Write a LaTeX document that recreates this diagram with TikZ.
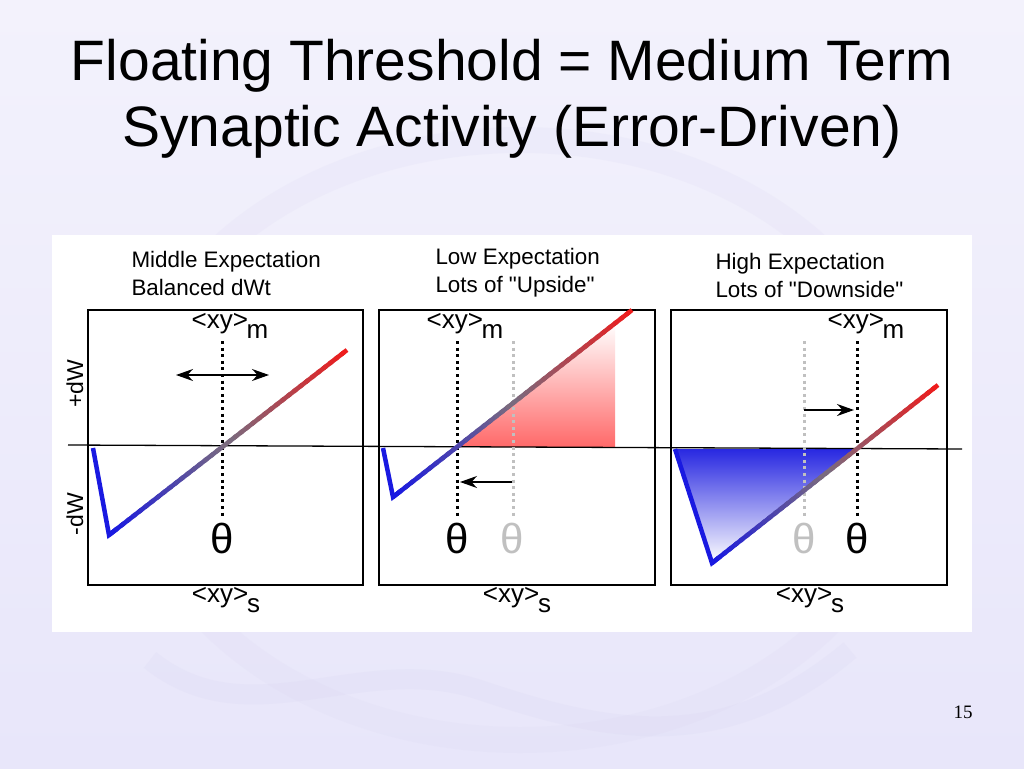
\documentclass[tikz,border=0pt]{standalone}
\usepackage{fontspec}
\setmainfont{Liberation Sans}
\newfontfamily\rawsans{Liberation Sans}
\newfontfamily\slidenumfont{Liberation Serif}
\usetikzlibrary{arrows.meta,calc}

\definecolor{slidebg}{RGB}{232,230,250}
\definecolor{slidetop}{RGB}{243,242,252}
\definecolor{markcol}{RGB}{214,211,240}
\definecolor{dwblue}{RGB}{25,25,225}
\definecolor{dwred}{RGB}{238,28,28}
\definecolor{dwmid}{RGB}{122,106,126}
\definecolor{ghost}{RGB}{192,192,192}
\definecolor{upfill}{RGB}{255,105,105}
\definecolor{downfill}{RGB}{40,40,225}

\tikzset{
  plotbox/.style={draw=black, line width=1.6pt},
  zeroline/.style={draw=black, line width=1.3pt},
  thresh/.style={line width=3pt, dash pattern=on 3pt off 3.6pt},
  shift arrow/.style={-{Stealth[length=17pt,width=12pt]}, line width=1.3pt},
  caption/.style={font=\fontsize{22.4}{28}\selectfont, align=left, anchor=west},
  axislabel/.style={font=\fontsize{23}{26}\selectfont, rotate=90},
  xylabel/.style={font=\fontsize{26}{30}\selectfont},
  thetalabel/.style={font=\fontsize{42}{46}\selectfont},
}

% straight double quote (no TeX quote mapping)
\newcommand{\dq}{{\rawsans\symbol{34}}}
% <xy> with a low subscript tucked under the bracket
\newcommand{\xysub}[1]{<xy>\kern-0.05em\raisebox{-0.36em}{#1}}

% dW curve: blue leg, then a blue-grey-red gradient leg
\newcommand{\dwcurve}[3]{%
  \draw[dwblue, line width=4.5pt, line join=miter] #1 -- #2 -- ($#2!0.03!#3$);
  \foreach \i in {0,...,39}{
    \pgfmathsetmacro{\ta}{\i/40}
    \pgfmathsetmacro{\tb}{min(1,(\i+1.5)/40)}
    \ifnum\i<20
      \pgfmathtruncatemacro{\pc}{\i*100/19}
      \colorlet{segcol}{dwmid!\pc!dwblue}
    \else
      \pgfmathtruncatemacro{\pc}{(\i-20)*100/19}
      \colorlet{segcol}{dwred!\pc!dwmid}
    \fi
    \draw[segcol, line width=4.5pt] ($#2!\ta!#3$) -- ($#2!\tb!#3$);
  }
}

\begin{document}
\begin{tikzpicture}[x=1pt, y=-1pt]
  \useasboundingbox (0,0) rectangle (1024,768);
  \shade[top color=slidetop, bottom color=slidebg] (0,0) rectangle (1024,768);

  % faint logo in the background
  \draw[markcol, line width=26pt, opacity=0.15] (520,440) ellipse [x radius=390, y radius=300];
  \draw[markcol, line width=20pt, opacity=0.18]
    (150,660) .. controls (250,740) and (360,650) .. (480,690)
    .. controls (600,730) and (720,760) .. (850,650);

  % title
  \node[font=\fontsize{57}{66}\selectfont, align=center] (title) at (512,99)
    {Floating Threshold = Medium Term\\Synaptic Activity (Error-Driven)};

  \fill[white] (52,235) rectangle (972,632);

  % panel fills
  \shade[top color=white, bottom color=upfill] (456,447) -- (615,323) -- (615,447) -- cycle;
  \shade[top color=downfill, bottom color=white] (675,449) -- (712,563) -- (857,449) -- cycle;

  % boxes
  \draw[plotbox] (88,310) rectangle (363,585);
  \draw[plotbox] (379,310) rectangle (655,585);
  \draw[plotbox] (671,310) rectangle (947,585);

  % zero line
  \coordinate (zl) at (68,445);
  \coordinate (zr) at (962,449);
  \draw[zeroline] (zl) -- (zr);

  % captions
  \node[caption] (cap1) at (128,273) {Middle Expectation\\Balanced dWt};
  \node[caption] (cap2) at (432,273) {Low Expectation\\Lots of \dq Upside\dq};
  \node[caption] (cap3) at (712,275) {High Expectation\\Lots of \dq Downside\dq};

  % axis labels
  \node[axislabel] (plusdw) at (75,384) {+dW};
  \node[axislabel] (minusdw) at (75,514) {-dW};

  % panel 1: middle expectation
  \coordinate (m1top) at (222,341);
  \coordinate (m1bot) at (222,518);
  \draw[thresh] (m1top) -- (m1bot);
  \dwcurve{(93,448)}{(109,535)}{(347,350)}
  \coordinate (dl1) at (176,375);
  \coordinate (dr1) at (269,375);
  \draw[line width=1.3pt, {Stealth[length=17pt,width=12pt]}-{Stealth[length=17pt,width=12pt]}] (dl1) -- (dr1);
  \node[xylabel] (xym1) at (230,326) {\xysub{m}};
  \node[thetalabel] (th1) at (222,538) {θ};
  \node[xylabel] (xys1) at (226,600) {\xysub{s}};

  % panel 2: low expectation
  \coordinate (g2top) at (513,341);
  \coordinate (g2bot) at (513,518);
  \coordinate (m2top) at (457,341);
  \coordinate (m2bot) at (457,518);
  \draw[thresh, ghost] (g2top) -- (g2bot);
  \draw[thresh] (m2top) -- (m2bot);
  \dwcurve{(383,448)}{(393,497)}{(632,310)}
  \coordinate (from2) at (512,482);
  \coordinate (to2) at (460,482);
  \draw[shift arrow] (from2) -- (to2);
  \node[xylabel] (xym2) at (465,326) {\xysub{m}};
  \node[thetalabel] (th2) at (457,538) {θ};
  \node[thetalabel, ghost] (thold2) at (512,538) {θ};
  \node[xylabel] (xys2) at (517,600) {\xysub{s}};

  % panel 3: high expectation
  \coordinate (g3top) at (804,341);
  \coordinate (g3bot) at (804,518);
  \coordinate (m3top) at (857,341);
  \coordinate (m3bot) at (857,518);
  \draw[thresh, ghost] (g3top) -- (g3bot);
  \draw[thresh] (m3top) -- (m3bot);
  \dwcurve{(675,449)}{(712,563)}{(938,385)}
  \coordinate (from3) at (804,410);
  \coordinate (to3) at (854,410);
  \draw[shift arrow] (from3) -- (to3);
  \node[xylabel] (xym3) at (866,326) {\xysub{m}};
  \node[thetalabel, ghost] (thold3) at (804,538) {θ};
  \node[thetalabel] (th3) at (857,538) {θ};
  \node[xylabel] (xys3) at (810,600) {\xysub{s}};

  % slide number
  \node[font=\slidenumfont\fontsize{19}{22}\selectfont] (slideno) at (963,712) {15};
\end{tikzpicture}
\end{document}
